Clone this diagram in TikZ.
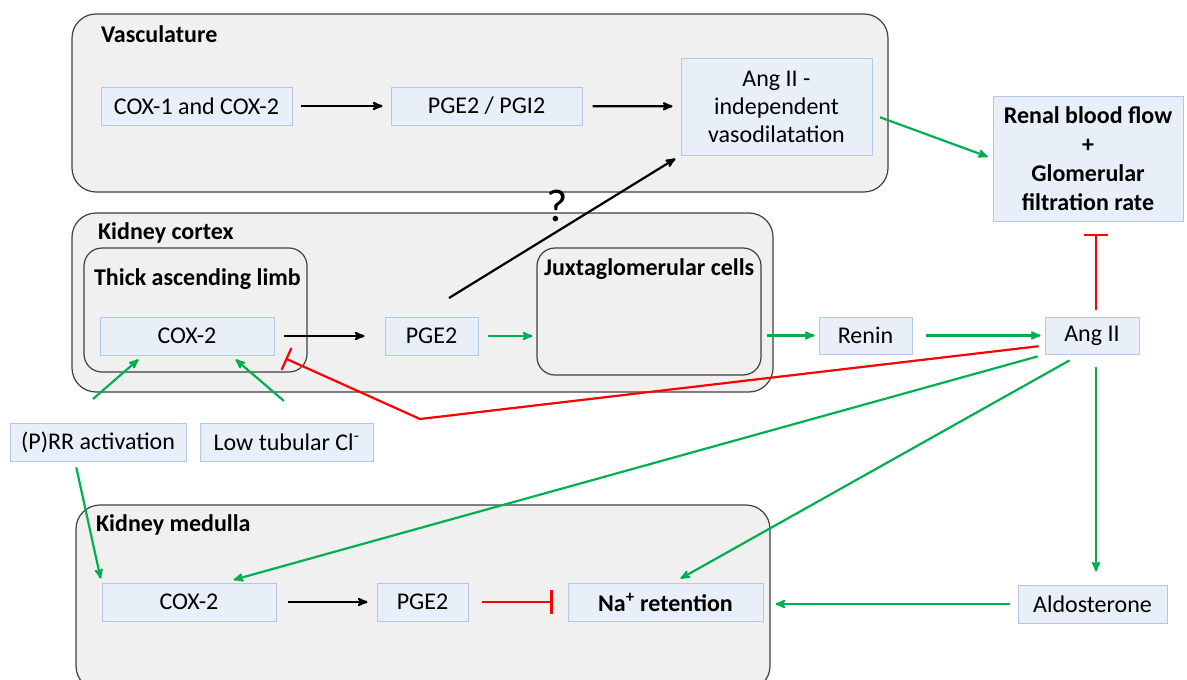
\documentclass[tikz,border=0pt]{standalone}
\usepackage{fontspec}
\setmainfont{Carlito}
\usepackage{tikz}
\usetikzlibrary{arrows,arrows.meta,positioning}

\definecolor{boxblue}{HTML}{E8EFF9}
\definecolor{boxline}{HTML}{B4C7E7}
\definecolor{regiongray}{HTML}{F0F0F0}
\definecolor{actgreen}{HTML}{00B050}

\begin{document}
\begin{tikzpicture}[->,>=stealth',x=1pt,y=-1pt,line width=2.2pt]
  \tikzstyle{every node}=[font=\fontsize{24}{28}\selectfont]
  \tikzstyle{entity}=[draw=boxline,fill=boxblue,line width=1pt,minimum height=38pt,align=center,inner sep=2pt]
  \tikzstyle{region}=[draw=black!75,fill=regiongray,line width=1.2pt,rounded corners=24pt]
  \tikzstyle{title}=[anchor=west,inner sep=0pt,font=\fontsize{24}{28}\selectfont\bfseries]
  \tikzstyle{act}=[color=actgreen]
  \tikzstyle{inh}=[color=red,-{Bar[width=24pt]}]

  \useasboundingbox (0,0) rectangle (1187,680);

  % compartments
  \node[region,minimum width=816pt,minimum height=178pt] (vasc) at (480,103) {};
  \node[region,minimum width=701pt,minimum height=179pt] (cortex) at (422.5,302.5) {};
  \node[region,rounded corners=18pt,minimum width=223pt,minimum height=124pt] (tal) at (195.5,310) {};
  \node[region,rounded corners=18pt,minimum width=224pt,minimum height=127pt] (J) at (649,311.5) {};
  \node[region,minimum width=694pt,minimum height=185pt] (medulla) at (423,597.5) {};

  \node[title] (tv) at (100,34) {Vasculature};
  \node[title] (tc) at (97,233) {Kidney cortex};
  \node[title] (tt) at (93,279) {Thick ascending limb};
  \node[title] (tj) at (543,269) {Juxtaglomerular cells};
  \node[title] (tm) at (95,525) {Kidney medulla};

  % vasculature
  \node[entity,minimum width=191pt] (C1) at (196.5,106) {COX-1 and COX-2};
  \node[entity,minimum width=191pt] (PG) at (486.5,106) {PGE2 / PGI2};
  \node[entity,minimum width=191pt,minimum height=97pt] (AV) at (776.5,106.5) {Ang II -\\independent\\vasodilatation};
  \node[entity,minimum width=190pt,minimum height=125pt,font=\fontsize{24}{29}\selectfont\bfseries] (RBF) at (1088,158.5) {Renal blood flow\\+\\Glomerular\\filtration rate};

  % cortex
  \node[entity,minimum width=174pt] (T2) at (187,336) {COX-2};
  \node[entity,minimum width=93pt] (P2) at (431.5,336) {PGE2};
  \node[entity,minimum width=93pt,minimum height=37pt] (R) at (865.5,335.5) {Renin};
  \node[entity,minimum width=94pt,minimum height=37pt] (A) at (1092,335.5) {Ang II};
  \node[font=\fontsize{46}{48}\selectfont] (q) at (557,206) {?};

  \node[entity,minimum width=176pt] (PR) at (98,442) {(P)RR activation};
  \node[entity,minimum width=173pt] (LC) at (286.5,442) {Low tubular Cl\textsuperscript{-}};

  % medulla
  \node[entity,minimum width=174pt] (M1) at (189,602) {COX-2};
  \node[entity,minimum width=91pt] (M2) at (422.5,602) {PGE2};
  \node[entity,minimum width=195pt,font=\fontsize{24}{28}\selectfont\bfseries] (NA) at (665.5,602) {Na\textsuperscript{+} retention};
  \node[entity,minimum width=149pt] (AL) at (1092.5,604) {Aldosterone};

  \coordinate (qs) at (449,298);
  \coordinate (pa) at (93,399);
  \coordinate (la) at (284,401);
  \coordinate (kink) at (420,419);

  % black
  \draw[shorten <=8pt,shorten >=8pt] (C1) -- (PG);
  \draw[shorten <=10pt,shorten >=8pt] (PG) -- (AV);
  \draw[shorten >=6pt] (qs) -- (AV.south west);
  \draw[shorten <=9pt,shorten >=20pt] (T2) -- (P2);
  \draw[shorten <=11pt,shorten >=9pt] (M1) -- (M2);

  % green
  \draw[act,shorten <=8pt,shorten >=5pt] ([yshift=-8pt]AV.east) -- (RBF.west);
  \draw[act,shorten <=9pt,shorten >=4pt] (P2.east) -- (P2.east -| J.west);
  \draw[act,shorten <=5pt,shorten >=4pt] (R.west -| J.east) -- (R.west);
  \draw[act,shorten <=13pt,shorten >=4pt] (R) -- (A);
  \draw[act,shorten >=6pt] (pa) -- ([xshift=-44pt]T2.south);
  \draw[act,shorten >=6pt] (la) -- ([xshift=44pt]T2.south);
  \draw[act,shorten <=6pt,shorten >=4pt] ([xshift=-23pt]PR.south) -- (M1.north west);
  \draw[act,shorten <=12pt,shorten >=13pt] ([xshift=4pt]A.south) -- ([xshift=4pt]A.south |- AL.north);
  \draw[act,shorten <=7pt,shorten >=10pt] (A.south west) -- ([xshift=35pt]M1.north);
  \draw[act,shorten <=12pt,shorten >=8pt] ([xshift=-12pt]A.south) -- ([xshift=8pt]NA.north);
  \draw[act,shorten <=8pt,shorten >=12pt] (AL.west) -- (AL.west -| NA.east);

  % red
  \draw[inh,shorten <=7pt,shorten >=12pt] ([xshift=4pt]A.north) -- ([xshift=4pt]A.north |- RBF.south);
  \draw[inh,shorten <=6pt] ([yshift=-10pt]A.west) -- (kink) -- ([xshift=11pt,yshift=-3pt]T2.south east);
  \draw[inh,shorten <=13pt,shorten >=15pt] (M2) -- (NA);
\end{tikzpicture}
\end{document}
